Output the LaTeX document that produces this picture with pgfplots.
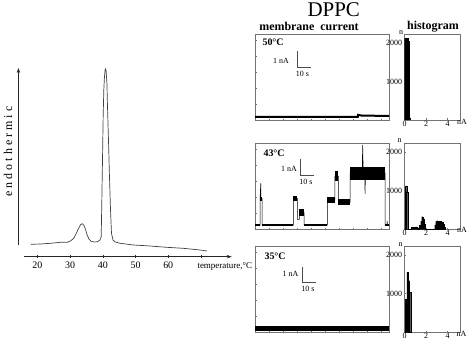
\documentclass[border=0pt]{standalone}
\usepackage{fontspec}
\setmainfont{Liberation Serif}
\usepackage{pgfplots}
\pgfplotsset{compat=1.18}
\usetikzlibrary{arrows.meta}
\newcommand\fs[1]{\fontsize{#1}{#1}\selectfont}

\tikzset{band/.style={black, line width=#1, line cap=butt}}
\pgfplotsset{
  trace/.style={scale only axis, width=134bp, height=86bp,
    xmin=0, xmax=95.7, ymin=0, ymax=5.375,
    axis line style={black!55, line width=0.5pt},
    xtick={10,20,...,90}, ytick={1,2,3,4,5},
    xticklabels={}, yticklabels={},
    xtick pos=left, ytick pos=left, tick align=inside,
    major tick length=1.5bp, tick style={black!55, line width=0.4pt},
    clip=false},
  histo/.style={scale only axis, width=56bp, height=86bp,
    xmin=0, xmax=5.2, ymin=0, ymax=2230,
    axis line style={black!55, line width=0.5pt},
    xtick={0,2,4}, ytick={1000,2000},
    xticklabels={0,2,4}, yticklabels={1000,2000},
    xtick pos=left, ytick pos=left, tick align=inside,
    major tick length=1.5bp, tick style={black!55, line width=0.4pt},
    ticklabel style={font=\fs{8}},
    yticklabel style={xshift=1bp},
    xticklabel style={yshift=2bp}},
}

\begin{document}
\begin{tikzpicture}[x=1bp, y=1bp]
\useasboundingbox (0,0) rectangle (472,344);

% ---------- DSC thermogram ----------
\begin{axis}[at={(24bp,87.3bp)}, anchor=south west,
  scale only axis, width=207.7bp, height=188.7bp,
  xmin=15.9, xmax=79.4, ymin=87.3, ymax=276,
  axis x line=bottom, axis y line=none,
  x axis line style={-{Stealth[length=5bp,width=3.5bp]}, line width=0.6pt, black!85},
  xtick={20,30,40,50,60,70}, xticklabels={20,30,40,50,60,{}},
  xtick align=center, major tick length=3bp,
  tick style={black!85, line width=0.5pt},
  ticklabel style={font=\fs{10}},
  clip=false]
\addplot[black!75, line width=0.7pt] coordinates {
  (17.9,99.7)(20.9,100)(24.0,100.7)(27.0,101.7)(29.1,101.7)(30.1,103)
  (31.1,105.7)(31.9,110.7)(32.6,115.7)(33.2,119.3)(33.7,120.3)(34.2,118.7)
  (34.7,114.7)(35.2,109)(35.8,104.7)(36.4,102.7)(37.4,102)(38.4,102.3)
  (39.1,104)(39.5,107)(39.7,144)(39.9,184)(40.1,227.3)(40.3,254)
  (40.5,267.3)(40.7,274)(40.8,275)(41.0,273.3)(41.25,260.7)(41.4,240.7)
  (41.7,207.3)(42.0,170.7)(42.35,134)(42.65,110.7)(43.1,104)(43.8,102)
  (45.3,100.7)(49.4,99)(54.5,98)(59.5,96.7)(64.6,95.7)(69.7,94)(71.9,93)
};
\draw[-{Stealth[length=5bp,width=3.5bp]}, line width=0.6pt, black!85]
  (axis cs:14.2,99) -- (axis cs:14.2,276);
\end{axis}
\node[rotate=90, font=\fs{12}] at (8,192.5) {\addfontfeatures{LetterSpace=25}endothermic};
\node[anchor=west, font=\fs{9}] at (194,77.3) {temperature,°C};

% ---------- titles ----------
\node[font=\fs{21}] at (333.7,334.5) {DPPC};
\node[font=\bfseries\fs{12}] at (309,318) {membrane\ \ current};
\node[font=\bfseries\fs{12}] at (433,317) {histogram};

% ---------- 50 C ----------
\begin{axis}[trace, at={(255bp,224bp)}, anchor=south west]
\addplot[band=2bp] coordinates {(0,0.2)(73.4,0.2)(73.6,0.32)(76,0.28)(95.7,0.25)};
\draw[black!70, line width=0.5pt] (axis cs:30,4.29) -- (axis cs:30,3.29) -- (axis cs:40,3.29);
\end{axis}
\begin{axis}[histo, at={(404.5bp,224bp)}, anchor=south west]
\addplot[const plot, fill=black, draw=black, line width=0.3pt]
  coordinates {(0,2110)(0.35,2050)(0.42,60)(0.55,0)} \closedcycle;
\end{axis}
\node[anchor=west, font=\bfseries\fs{10}] at (259,301.3) {50°C};
\node[font=\fs{8}] at (281,283) {1 nA};
\node[font=\fs{8}] at (302.5,270.5) {10 s};
\node[font=\fs{8}] at (401,311) {n};
\node[font=\fs{8}] at (462,222.5) {nA};

% ---------- 43 C ----------
\begin{axis}[trace, at={(255bp,115bp)}, anchor=south west]
\addplot[black, line width=0.5pt] coordinates {
  (0,0.25)(3.6,0.25)(3.6,1.9)(4.1,2.85)(4.3,1.9)(5.0,1.9)(5.0,0.25)
  (27.4,0.25)(27.4,1.92)(30.2,1.92)(30.2,0.6)(31.7,0.6)(31.7,1.02)
  (35.0,1.02)(35.0,0.25)(51.7,0.25)(51.7,1.81)(57.1,1.81)(57.1,3.3)
  (59.5,3.3)(59.5,1.67)(67.9,1.67)(67.9,3.5)(76.5,3.5)(76.9,5.25)
  (77.3,3.5)(78.3,3.5)(78.6,2.2)(78.9,3.5)(92.9,3.5)(92.9,0.25)
  (94.2,0.25)(94.4,0.5)(94.6,0.25)(95.7,0.25)};
\addplot[band=2.5bp] coordinates {(0,0.25)(3.6,0.25)};
\addplot[band=2.5bp] coordinates {(5.0,0.25)(27.4,0.25)};
\addplot[band=2.5bp] coordinates {(35.0,0.25)(51.7,0.25)};
\addplot[band=2.5bp] coordinates {(92.9,0.25)(95.7,0.25)};
\addplot[band=4bp] coordinates {(3.6,1.9)(5.0,1.9)};
\addplot[band=5bp] coordinates {(27.4,1.92)(30.2,1.92)};
\addplot[band=7bp] coordinates {(31.7,1.02)(35.0,1.02)};
\addplot[band=6bp] coordinates {(51.7,1.81)(57.1,1.81)};
\addplot[band=10bp] coordinates {(57.1,3.3)(59.5,3.3)};
\addplot[band=6bp] coordinates {(59.5,1.67)(67.9,1.67)};
\addplot[band=13bp] coordinates {(67.9,3.5)(92.9,3.5)};
\draw[black!70, line width=0.5pt] (axis cs:32.1,4.36) -- (axis cs:32.1,3.375) -- (axis cs:42.1,3.375);
\end{axis}
\begin{axis}[histo, at={(404.5bp,115bp)}, anchor=south west]
\addplot[const plot, fill=black, draw=black, line width=0.3pt] coordinates {
  (0,0)(0.1,1120)(0.2,960)(0.3,0)(0.65,50)(0.8,40)(1.0,55)(1.15,30)(1.3,0)
  (1.4,90)(1.5,200)(1.6,320)(1.7,260)(1.8,120)(1.9,0)(2.8,110)(2.9,200)
  (3.0,215)(3.1,180)(3.2,205)(3.3,195)(3.4,150)(3.5,185)(3.6,120)(3.7,50)(3.8,0)
} \closedcycle;
\end{axis}
\node[anchor=west, font=\bfseries\fs{10}] at (260,190.7) {43°C};
\node[font=\fs{8}] at (289,174.7) {1 nA};
\node[font=\fs{8}] at (306,162.3) {10 s};
\node[font=\fs{8}] at (399.5,203) {n};
\node[font=\fs{8}] at (462,114) {nA};

% ---------- 35 C ----------
\begin{axis}[trace, at={(255bp,12bp)}, anchor=south west]
\addplot[band=4.5bp] coordinates {(0,0.23)(95.7,0.23)};
\draw[black!70, line width=0.5pt] (axis cs:33.4,4.08) -- (axis cs:33.4,3.08) -- (axis cs:43.4,3.08);
\end{axis}
\begin{axis}[histo, at={(404.5bp,12bp)}, anchor=south west]
\addplot[const plot, fill=black, draw=black, line width=0.3pt]
  coordinates {(0,0)(0.1,850)(0.22,1550)(0.35,1330)(0.47,1030)(0.57,0)} \closedcycle;
\end{axis}
\node[anchor=west, font=\bfseries\fs{10}] at (261,87.3) {35°C};
\node[font=\fs{8}] at (290.5,70) {1 nA};
\node[font=\fs{8}] at (308,54.7) {10 s};
\node[font=\fs{8}] at (400.5,99) {n};
\node[font=\fs{8}] at (461.5,9.7) {nA};
\end{tikzpicture}
\end{document}
